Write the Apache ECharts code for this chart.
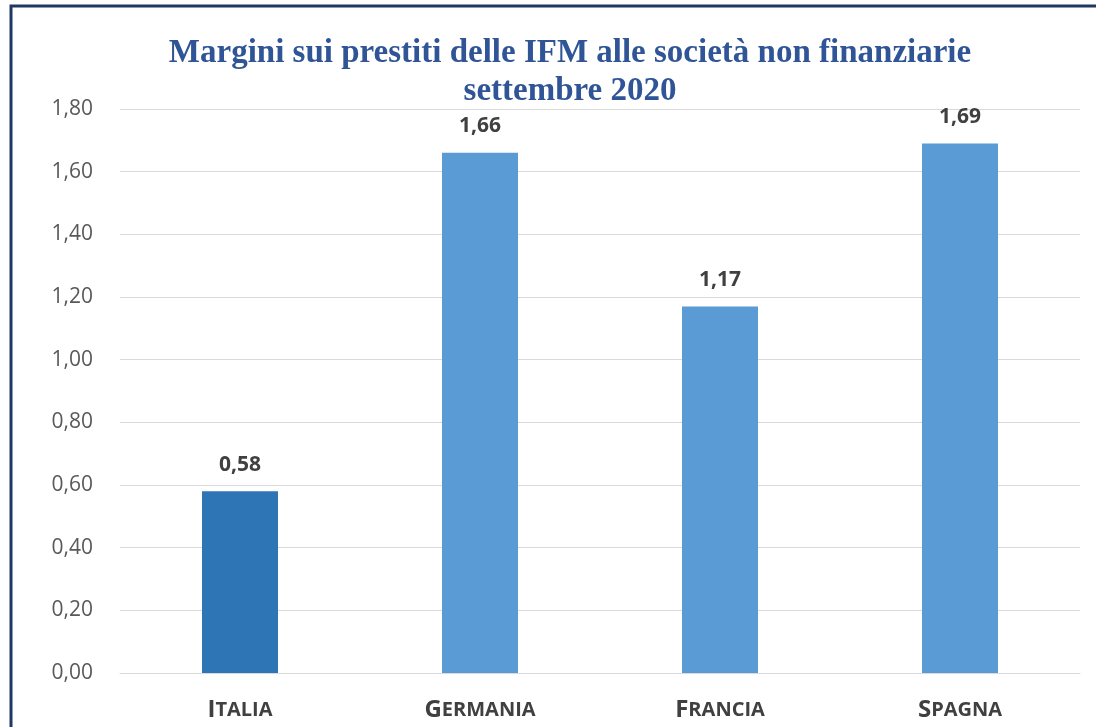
<!DOCTYPE html>
<html><head><meta charset="utf-8">
<script src="https://cdn.jsdelivr.net/npm/echarts@6/dist/echarts.min.js"></script>
<style>html,body{margin:0;padding:0;background:#fff}#c{width:1096px;height:727px}</style>
</head><body><div id="c"></div>
<script>
const categories = ['Italia', 'Germania', 'Francia', 'Spagna'];
const values = [0.58, 1.66, 1.17, 1.69];
const barColors = ['#2E75B6', '#5B9BD5', '#5B9BD5', '#5B9BD5'];
const titleLines = ['Margini sui prestiti delle IFM alle società non finanziarie', 'settembre 2020'];

const chart = echarts.init(document.getElementById('c'));
const fmt = v => v.toFixed(2).replace('.', ',');
chart.setOption({
  animation: false,
  title: {
    text: titleLines.join('\n'),
    left: 565, top: 29, textAlign: 'center',
    textStyle: { fontFamily: 'Liberation Serif', fontWeight: 'bold', fontSize: 33, color: '#2F5597', lineHeight: 38 }
  },
  graphic: [{
    type: 'rect', shape: { x: 11, y: 6, width: 1100, height: 800 },
    style: { fill: 'none', stroke: '#1F3864', lineWidth: 3 }, silent: true
  }],
  grid: { left: 120, right: 16, top: 109, bottom: 54, containLabel: false },
  xAxis: {
    type: 'category', data: categories,
    axisLine: { lineStyle: { color: '#D9D9D9', width: 1 } },
    axisTick: { show: false },
    axisLabel: {
      margin: 25,
      formatter: v => '{a|' + v[0].toUpperCase() + '}{b|' + v.slice(1).toUpperCase() + '}',
      rich: {
        a: { fontFamily: 'Open Sans', fontWeight: 'bold', fontSize: 24, color: '#404040' },
        b: { fontFamily: 'Open Sans', fontWeight: 'bold', fontSize: 20, color: '#404040' }
      }
    }
  },
  yAxis: {
    type: 'value', min: 0, max: 1.8, interval: 0.2,
    axisLine: { show: false }, axisTick: { show: false },
    splitLine: { lineStyle: { color: '#D9D9D9', width: 1 } },
    axisLabel: { formatter: v => fmt(v), fontFamily: 'Open Sans', fontSize: 21, color: '#595959', margin: 27 }
  },
  series: [{
    type: 'bar', barWidth: 76,
    data: values.map((v, i) => ({ value: v, itemStyle: { color: barColors[i] } })),
    label: { show: true, position: 'top', distance: 16, formatter: p => fmt(p.value),
      fontFamily: 'Open Sans', fontWeight: 'bold', fontSize: 21, color: '#404040' }
  }]
});
</script></body></html>
